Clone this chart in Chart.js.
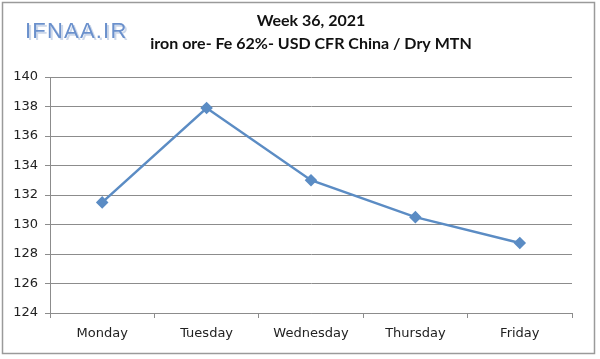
<!DOCTYPE html>
<html>
<head>
<meta charset="utf-8">
<script src="https://cdn.jsdelivr.net/npm/chart.js@4"></script>
<style>
  html, body { margin: 0; padding: 0; background: #fff; }
  #wrap { width: 600px; height: 359px; }
</style>
</head>
<body>
<div id="wrap"><canvas id="myChart" width="600" height="359"></canvas></div>
<script>
const days = ['Monday', 'Tuesday', 'Wednesday', 'Thursday', 'Friday']
const prices = [131.5, 137.9, 133.0, 130.5, 128.75]
const titleLines = ['Week 36, 2021', 'iron ore- Fe 62%- USD CFR China / Dry MTN']
const logoText = 'IFNAA.IR'

// frame, logo and two-line heading
const decor = {
  id: 'decor',
  beforeDraw (chart) {
    const c = chart.ctx
    c.save()
    c.fillStyle = '#fff'
    c.fillRect(0, 0, chart.width, chart.height)
    c.strokeStyle = '#9a9a9a'
    c.lineWidth = 1.5
    c.strokeRect(2.5, 2.5, 592, 351)
    c.restore()
  },
  afterDraw (chart) {
    const c = chart.ctx
    c.save()
    c.textAlign = 'center'
    c.fillStyle = '#111'
    c.font = 'bold 16px Lato, "Open Sans", sans-serif'
    c.fillText(titleLines[0], 311, 26)
    c.fillText(titleLines[1], 311, 49)
    c.textAlign = 'left'
    c.font = '22px "Liberation Sans", sans-serif'
    c.letterSpacing = '1.2px'
    c.fillStyle = '#cdd8ea'
    c.fillText(logoText, 27, 40)
    c.fillStyle = '#6a90cc'
    c.fillText(logoText, 25, 38)
    c.restore()
  }
}

const ctx = document.getElementById('myChart')
// eslint-disable-next-line no-unused-vars
const myChart = new Chart(ctx, {
  type: 'line',
  data: {
    labels: days,
    datasets: [{
      data: prices,
      lineTension: 0,
      borderColor: '#5b8cc4',
      borderWidth: 2.5,
      pointStyle: 'rectRot',
      pointRadius: 4.5,
      pointBackgroundColor: '#5b8cc4',
      pointBorderColor: '#5b8cc4'
    }]
  },
  options: {
    responsive: false,
    animation: false,
    layout: { padding: { left: 0, right: 28, top: 77, bottom: 11 } },
    plugins: {
      legend: { display: false },
      tooltip: { enabled: false }
    },
    scales: {
      x: {
        offset: true,
        afterFit (scale) { scale.height = 35 },
        grid: {
          offset: true,
          drawOnChartArea: false,
          drawTicks: true,
          tickLength: 5,
          color: '#8c8c8c'
        },
        border: { color: '#8c8c8c' },
        ticks: {
          color: '#222',
          padding: 8,
          font: { family: 'DejaVu Sans', size: 13 }
        }
      },
      y: {
        min: 124,
        max: 140,
        afterFit (scale) { scale.width = 50 },
        grid: {
          color: '#8c8c8c',
          tickLength: 5
        },
        border: { color: '#8c8c8c' },
        ticks: {
          stepSize: 2,
          color: '#222',
          padding: 7,
          font: { family: 'DejaVu Sans', size: 13 }
        }
      }
    }
  },
  plugins: [decor]
})
</script>
</body>
</html>
